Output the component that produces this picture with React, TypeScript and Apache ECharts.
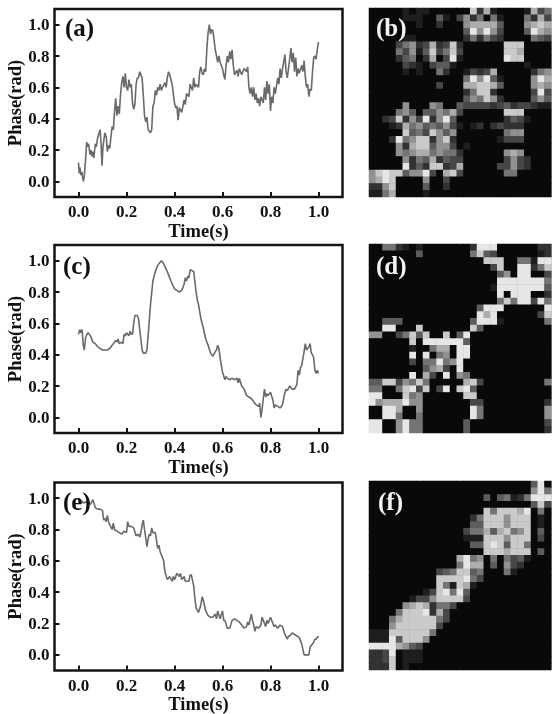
import React, { useEffect, useRef } from "react";
import * as echarts from "echarts";

const xTicks = [0, 0.2, 0.4, 0.6, 0.8, 1.0];
const yTicks = [0, 0.2, 0.4, 0.6, 0.8, 1.0];

const curveA: number[][] = [[0,.12],[.003,.05],[.006,.09],[.01,.04],[.014,.06],[.02,0],[.024,.03],[.03,.15],[.034,.25],[.038,.22],[.042,.24],[.048,.17],[.052,.2],[.056,.16],[.06,.19],[.064,.15],[.07,.24],[.074,.22],[.08,.28],[.086,.31],[.09,.33],[.094,.24],[.098,.1],[.102,.22],[.106,.27],[.11,.31],[.116,.28],[.12,.19],[.125,.23],[.13,.21],[.14,.35],[.145,.33],[.15,.44],[.155,.53],[.16,.42],[.165,.48],[.17,.43],[.175,.55],[.18,.63],[.185,.67],[.19,.6],[.195,.69],[.2,.6],[.205,.58],[.21,.65],[.215,.6],[.22,.62],[.225,.5],[.23,.46],[.235,.49],[.24,.62],[.245,.66],[.25,.66],[.255,.7],[.26,.68],[.265,.66],[.27,.55],[.275,.42],[.28,.38],[.285,.41],[.29,.33],[.295,.32],[.3,.31],[.305,.33],[.31,.48],[.315,.5],[.32,.58],[.325,.55],[.33,.6],[.335,.58],[.34,.62],[.345,.58],[.35,.6],[.36,.63],[.365,.6],[.37,.66],[.375,.7],[.38,.68],[.39,.62],[.395,.56],[.4,.5],[.405,.47],[.41,.48],[.415,.39],[.42,.47],[.43,.44],[.44,.52],[.445,.49],[.45,.56],[.46,.54],[.465,.62],[.47,.6],[.475,.58],[.48,.66],[.485,.6],[.49,.62],[.5,.6],[.505,.7],[.51,.73],[.515,.69],[.52,.68],[.525,.72],[.53,.7],[.535,.85],[.54,.95],[.545,1],[.55,.94],[.555,.97],[.56,.96],[.57,.84],[.575,.8],[.58,.76],[.585,.8],[.59,.76],[.6,.72],[.605,.68],[.61,.65],[.615,.74],[.62,.8],[.625,.76],[.63,.83],[.635,.78],[.64,.84],[.645,.74],[.65,.68],[.66,.71],[.665,.67],[.67,.72],[.68,.68],[.69,.72],[.7,.7],[.705,.73],[.71,.6],[.715,.56],[.72,.6],[.725,.54],[.73,.6],[.735,.52],[.74,.56],[.745,.5],[.75,.53],[.755,.48],[.76,.54],[.77,.5],[.775,.6],[.78,.52],[.785,.64],[.79,.56],[.795,.62],[.8,.45],[.805,.54],[.81,.5],[.815,.6],[.82,.56],[.83,.66],[.835,.62],[.84,.72],[.845,.66],[.85,.72],[.855,.76],[.86,.81],[.865,.7],[.87,.66],[.875,.72],[.88,.78],[.885,.85],[.89,.76],[.895,.82],[.9,.7],[.905,.79],[.91,.67],[.915,.72],[.92,.69],[.93,.74],[.935,.7],[.94,.77],[.945,.67],[.95,.6],[.955,.62],[.96,.54],[.965,.59],[.97,.58],[.975,.7],[.98,.79],[.985,.8],[.99,.78],[.995,.84],[1,.89]];

const curveC: number[][] = [[0,.53],[.005,.56],[.01,.54],[.015,.56],[.02,.46],[.024,.43],[.03,.51],[.035,.53],[.04,.54],[.05,.52],[.06,.48],[.07,.47],[.08,.45],[.09,.44],[.1,.43],[.11,.43],[.12,.43],[.13,.44],[.14,.46],[.15,.48],[.155,.49],[.16,.48],[.165,.5],[.17,.47],[.18,.48],[.185,.47],[.19,.53],[.195,.52],[.2,.54],[.205,.53],[.21,.52],[.215,.55],[.22,.53],[.225,.53],[.23,.6],[.235,.65],[.245,.65],[.25,.63],[.255,.56],[.26,.5],[.265,.43],[.27,.41],[.28,.41],[.285,.43],[.29,.52],[.3,.72],[.31,.87],[.32,.93],[.33,.97],[.34,.99],[.345,1],[.355,.98],[.37,.93],[.385,.87],[.4,.82],[.41,.81],[.42,.8],[.43,.81],[.44,.85],[.445,.89],[.45,.87],[.455,.9],[.46,.89],[.465,.94],[.47,.94],[.48,.93],[.49,.8],[.495,.75],[.5,.72],[.51,.63],[.52,.57],[.53,.5],[.54,.46],[.55,.41],[.56,.39],[.57,.42],[.575,.43],[.58,.46],[.585,.44],[.59,.38],[.6,.29],[.61,.24],[.615,.26],[.62,.25],[.63,.24],[.64,.25],[.65,.24],[.66,.25],[.665,.22],[.67,.25],[.68,.2],[.69,.18],[.7,.14],[.71,.13],[.72,.12],[.73,.1],[.74,.08],[.75,.07],[.755,.09],[.76,0],[.765,.05],[.77,.12],[.775,.18],[.78,.13],[.785,.15],[.79,.14],[.8,.16],[.81,.11],[.815,.06],[.82,.08],[.83,.07],[.84,.06],[.85,.08],[.86,.16],[.865,.18],[.87,.17],[.88,.2],[.89,.18],[.9,.18],[.91,.21],[.915,.3],[.92,.27],[.925,.32],[.93,.33],[.94,.42],[.945,.47],[.95,.43],[.96,.45],[.965,.47],[.97,.41],[.975,.4],[.98,.38],[.985,.3],[.99,.28],[.995,.3],[1,.28]];

const curveE: number[][] = [[0,1],[.02,.97],[.04,.98],[.05,.96],[.06,.99],[.07,.94],[.08,.93],[.09,.93],[.1,.92],[.105,.86],[.11,.87],[.115,.85],[.12,.89],[.125,.85],[.13,.83],[.14,.8],[.145,.84],[.15,.8],[.16,.79],[.17,.78],[.18,.77],[.19,.79],[.2,.78],[.205,.85],[.21,.82],[.22,.82],[.23,.81],[.24,.76],[.25,.77],[.255,.75],[.26,.78],[.265,.83],[.27,.86],[.275,.8],[.28,.75],[.285,.69],[.29,.74],[.295,.77],[.3,.76],[.305,.81],[.31,.78],[.32,.78],[.325,.73],[.33,.68],[.335,.7],[.34,.66],[.35,.62],[.355,.6],[.36,.53],[.37,.48],[.38,.5],[.39,.47],[.395,.5],[.4,.48],[.41,.52],[.42,.5],[.425,.52],[.43,.48],[.44,.5],[.445,.47],[.45,.47],[.46,.47],[.465,.51],[.47,.51],[.48,.44],[.485,.36],[.49,.3],[.5,.27],[.51,.32],[.515,.37],[.52,.35],[.53,.28],[.54,.25],[.55,.24],[.56,.24],[.57,.26],[.575,.23],[.58,.28],[.59,.23],[.6,.28],[.605,.22],[.61,.22],[.62,.17],[.63,.17],[.64,.22],[.65,.23],[.66,.22],[.67,.21],[.68,.19],[.69,.17],[.7,.18],[.705,.21],[.71,.19],[.72,.26],[.725,.22],[.73,.19],[.735,.15],[.74,.18],[.75,.17],[.76,.19],[.765,.24],[.77,.22],[.78,.18],[.785,.22],[.79,.2],[.8,.24],[.81,.2],[.815,.18],[.82,.19],[.83,.17],[.84,.19],[.85,.18],[.86,.13],[.87,.1],[.875,.12],[.88,.12],[.89,.14],[.9,.13],[.91,.12],[.92,.11],[.93,.07],[.94,0],[.95,0],[.96,0],[.965,.05],[.97,.06],[.98,.08],[.985,.1],[.99,.1],[1,.12]];

const heatB = [
"00000 10110 00000 82710 00017 35",
"00000 11100 41036 25051 00052 73",
"00000 00100 20006 77774 00067 87",
"00000 00000 00004 96963 00049 76",
"00000 11000 00002 52532 00005 43",
"00003 56237 23820 00000 88800 00",
"00005 36148 35830 00000 88700 00",
"00002 45027 03910 00000 98800 00",
"00000 32103 44100 00000 00010 00",
"00000 10100 52001 32370 00002 56",
"00000 00000 00005 96941 00006 97",
"00000 00000 30007 78874 00006 76",
"00000 00000 00002 58820 00003 93",
"00000 00000 00004 65862 00004 64",
"00000 60006 50043 33323 42332 11",
"00005 64044 65730 00000 88800 00",
"00238 26392 69400 00000 24310 00",
"00012 75645 46310 12023 22200 00",
"00000 84538 64600 00000 56600 00",
"00029 56882 68200 00001 33300 00",
"00006 27884 66301 00000 00000 00",
"00006 56775 65520 00000 67600 00",
"00000 62547 24330 00000 36320 00",
"00000 92428 82370 00003 36320 00",
"68988 46693 07830 00000 55000 00",
"67980 00060 03000 00000 00000 00",
"22680 00040 02000 00000 00000 00",
"11570 00010 00000 00000 00000 00",
];

const heatD = [
"00552 10100 00000 29990 00000 22",
"00000 00400 00000 58430 00000 12",
"00000 00000 00000 00888 00551 99",
"00000 00000 00000 00038 00992 58",
"00000 00000 00000 00004 60990 03",
"00000 00000 00000 00009 99999 95",
"00000 00000 00000 00019 99999 94",
"00000 00000 00000 00009 09990 02",
"00000 00000 00000 00005 85993 95",
"00000 00000 00000 04999 00000 09",
"00000 00000 00000 09790 00000 38",
"00444 00000 00000 49991 00000 05",
"00990 00800 00000 84000 00000 00",
"66003 58480 08049 00000 00000 00",
"00000 08099 99994 00000 00000 00",
"00000 01005 77099 00000 00000 00",
"00000 09090 56099 00000 00000 00",
"00000 03055 95690 00000 00000 00",
"00000 00046 73090 00000 00000 00",
"00000 09073 09065 00000 00000 00",
"44883 65850 00007 83000 00000 05",
"55005 89380 39089 40000 00000 00",
"99000 85600 00008 80000 00000 00",
"96777 96600 00000 33000 00000 02",
"00997 00600 00000 95000 00000 06",
"00995 00500 00000 95000 00000 06",
"99006 95500 00004 00000 00000 03",
"99006 95500 00004 00000 00000 02",
];

const heatF = [
"00000 00000 00000 00000 00004 90",
"00000 00000 00000 00000 00006 95",
"00000 00000 00000 00404 51259 99",
"00000 00000 00000 00000 00004 83",
"00000 00000 00000 00858 88790 50",
"00000 00000 00000 25888 68880 10",
"00000 00000 00000 44888 68880 10",
"00000 00000 00003 55747 85680 40",
"00000 00000 00001 11888 68880 30",
"00000 00000 00000 44898 48850 00",
"00000 00000 00000 00888 78880 40",
"00000 00000 00079 56050 53410 00",
"00000 00000 00059 77040 63200 00",
"00000 00000 34588 45000 51000 00",
"00000 00000 88889 53000 00000 00",
"00000 00000 85187 10000 00000 00",
"00000 00013 89594 00000 00000 00",
"00000 01336 88883 00000 00000 00",
"00000 67872 55300 00000 00000 00",
"00005 88892 73000 00000 00000 00",
"00057 88888 53000 00000 00000 00",
"00068 88888 30000 00000 00000 00",
"11188 88885 00000 00000 00000 00",
"11194 88860 00000 00000 00000 00",
"99997 64300 00000 00000 00000 00",
"22390 11100 00000 00000 00000 00",
"22380 11100 00000 00000 00000 00",
"22280 10000 00000 00000 00000 00",
];

const panelLetters = ["(a)", "(b)", "(c)", "(d)", "(e)", "(f)"];
const FONT = '"Liberation Serif", serif';

function cells(rows: string[]) {
  const out: number[][] = [];
  rows.forEach((r, y) => {
    r.replace(/ /g, "").split("").forEach((c, x) => out.push([x, y, Number(c)]));
  });
  return out;
}

const lineTops = [9, 245, 482.5];
const heatTops = [8, 244, 481];
const curves = [curveA, curveC, curveE];
const heats = [heatB, heatD, heatF];
const colIdx = Array.from({ length: 27 }, (_, i) => String(i));
const rowIdx = Array.from({ length: 28 }, (_, i) => String(i));

function buildOption() {
  const grid: any[] = [];
  const xAxis: any[] = [];
  const yAxis: any[] = [];
  const series: any[] = [];
  const graphic: any[] = [];

  curves.forEach((data, i) => {
    const g = grid.length;
    grid.push({
      left: 54.5, top: lineTops[i], width: 288, height: 188,
      outerBoundsMode: "none",
      show: true, borderColor: "#141414", borderWidth: 2.5, backgroundColor: "#fff",
    });
    xAxis.push({
      type: "value", gridIndex: g, min: -0.1, max: 1.1,
      name: "Time(s)", nameLocation: "middle", nameGap: 24, nameMoveOverlap: false,
      nameTextStyle: { fontFamily: FONT, fontWeight: "bold", fontSize: 18.5, color: "#111" },
      axisLine: { show: false, onZero: false }, splitLine: { show: false },
      axisTick: { inside: true, length: 5, customValues: xTicks, lineStyle: { color: "#141414", width: 2 } },
      axisLabel: {
        customValues: xTicks, margin: 6, formatter: (v: number) => v.toFixed(1),
        fontFamily: FONT, fontWeight: "bold", fontSize: 17, color: "#111",
      },
    });
    yAxis.push({
      type: "value", gridIndex: g, min: -0.1, max: 1.1,
      name: "Phase(rad)", nameLocation: "middle", nameGap: 30, nameRotate: 90, nameMoveOverlap: false,
      nameTextStyle: { fontFamily: FONT, fontWeight: "bold", fontSize: 18.5, color: "#111" },
      axisLine: { show: false, onZero: false }, splitLine: { show: false },
      axisTick: { inside: true, length: 5, customValues: yTicks, lineStyle: { color: "#141414", width: 2 } },
      axisLabel: {
        customValues: yTicks, margin: 5, formatter: (v: number) => v.toFixed(1),
        fontFamily: FONT, fontWeight: "bold", fontSize: 17, color: "#111",
      },
    });
    series.push({
      type: "line", xAxisIndex: g, yAxisIndex: g, data, showSymbol: false, silent: true,
      lineStyle: { color: "#6a6a6a", width: 1.6 },
    });
  });

  heats.forEach((rows, i) => {
    const g = grid.length;
    grid.push({
      left: 369, top: heatTops[i], width: 182.25, height: 189,
      outerBoundsMode: "none",
      show: true, borderWidth: 0, backgroundColor: "#090909",
    });
    xAxis.push({ type: "category", gridIndex: g, data: colIdx, show: false });
    yAxis.push({ type: "category", gridIndex: g, data: rowIdx, inverse: true, show: false });
    series.push({
      type: "heatmap", xAxisIndex: g, yAxisIndex: g, data: cells(rows), silent: true,
      itemStyle: { borderWidth: 0 },
    });
  });

  const lx = [65, 376, 63, 376, 63, 378];
  const ly = [27, 27, 265, 265, 501, 501];
  panelLetters.forEach((t, i) => {
    graphic.push({
      type: "text", x: lx[i], y: ly[i], z: 100,
      style: {
        text: t, fontFamily: FONT, fontWeight: "bold", fontSize: 25,
        fill: i % 2 ? "#f2f2f2" : "#111", verticalAlign: "middle", align: "left",
      },
    });
  });

  return {
    animation: false,
    backgroundColor: "#fff",
    grid, xAxis, yAxis, series, graphic,
    visualMap: {
      show: false, min: 0, max: 9, seriesIndex: [3, 4, 5],
      inRange: { color: ["#090909", "#666666", "#e6e6e6"] },
    },
  };
}

export default function App() {
  const ref = useRef<HTMLDivElement>(null);
  useEffect(() => {
    document.body.style.margin = "0";
    const chart = echarts.init(ref.current!, undefined, { renderer: "svg" });
    chart.setOption(buildOption() as any);
    return () => chart.dispose();
  }, []);
  return <div ref={ref} style={{ width: 552, height: 714, filter: "blur(0.7px)" }} />;
}
